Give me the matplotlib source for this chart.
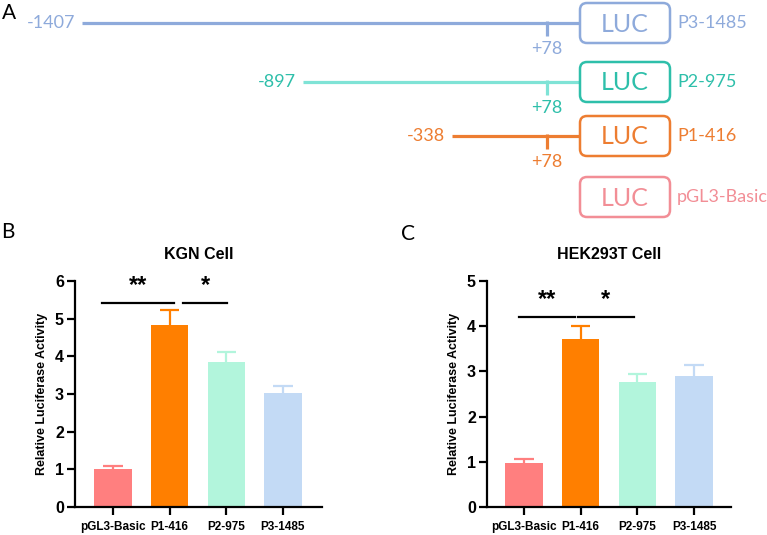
import matplotlib.pyplot as plt
from matplotlib.patches import FancyBboxPatch

# ---- panel A: promoter constructs ----
constructs = ["P3-1485", "P2-975", "P1-416", "pGL3-Basic"]
start_labels = ["-1407", "-897", "-338", None]
tss_label = "+78"
line_colors = ["#8eaadb", "#7fe3d6", "#ed7d31", "#f28e96"]
text_colors = ["#8eaadb", "#2ebfaa", "#ed7d31", "#f28e96"]

# ---- panels B/C: luciferase activity ----
groups = ["pGL3-Basic", "P1-416", "P2-975", "P3-1485"]
kgn_mean = [1.00, 4.84, 3.86, 3.02]
kgn_err = [0.09, 0.38, 0.26, 0.19]
hek_mean = [0.98, 3.71, 2.77, 2.89]
hek_err = [0.09, 0.30, 0.18, 0.26]
bar_colors = ["#ff7f7f", "#ff7f00", "#b2f5dc", "#c3daf5"]

W, H = 767, 535
fig = plt.figure(figsize=(W / 100, H / 100), dpi=100)

# schematic drawn in pixel space
axA = fig.add_axes([0, 0, 1, 1])
axA.set_xlim(0, W)
axA.set_ylim(H, 0)
axA.axis("off")

row_y = [23, 82, 136, 197]
line_start = [82, 303, 452, None]
tss_x = 547
box_x, box_w, box_h = 580, 90, 40
fA = "Lato"

for i, name in enumerate(constructs):
    y = row_y[i]
    if line_start[i] is not None:
        axA.plot([line_start[i], box_x], [y, y], color=line_colors[i], lw=2.3,
                 solid_capstyle="butt", zorder=1)
        axA.plot([tss_x, tss_x], [y - 2, y + 13], color=line_colors[i], lw=2.3,
                 solid_capstyle="butt", zorder=1)
        axA.text(line_start[i] - 7, y, start_labels[i], color=text_colors[i],
                 fontsize=13, family=fA, ha="right", va="center")
        axA.text(tss_x, y + 26, tss_label, color=text_colors[i], fontsize=13,
                 family=fA, ha="center", va="center")
    box = FancyBboxPatch((box_x, y - box_h / 2), box_w, box_h,
                         boxstyle="round,pad=0,rounding_size=7",
                         fc="white", ec=text_colors[i], lw=1.8, zorder=2)
    axA.add_patch(box)
    axA.text(box_x + box_w / 2, y + 1, "LUC", color=text_colors[i], fontsize=18,
             family=fA, ha="center", va="center", zorder=3)
    axA.text(box_x + box_w + 7, y, name, color=text_colors[i], fontsize=13,
             family=fA, ha="left", va="center")

axA.text(9, 13, "A", fontsize=15, family=fA, ha="center", va="center")
axA.text(8, 232, "B", fontsize=15, family=fA, ha="center", va="center")
axA.text(408, 234, "C", fontsize=15, family=fA, ha="center", va="center")


def bar_panel(rect, means, errs, ymax, title, sig):
    ax = fig.add_axes(rect)
    x = list(range(len(groups)))
    ax.bar(x, means, width=0.66, color=bar_colors, zorder=2)
    for xi, m, e, c in zip(x, means, errs, bar_colors):
        ax.vlines(xi, m, m + e, color=c, lw=1.6, zorder=1)
        ax.hlines(m + e, xi - 0.17, xi + 0.17, color=c, lw=1.6, zorder=1)
    star_off = ymax * 0.025
    for (x0, x1, yl, stars) in sig:
        ax.plot([x0, x1], [yl, yl], color="black", lw=1.6, clip_on=False)
        ax.text((x0 + x1) / 2, yl + star_off, stars, fontsize=17, fontweight="bold",
                ha="center", va="bottom", family="Liberation Sans")
    ax.set_ylim(0, ymax)
    ax.set_yticks(range(ymax + 1))
    ax.set_xticks(x)
    ax.set_xticklabels(groups)
    for s in ["top", "right"]:
        ax.spines[s].set_visible(False)
    for s in ["left", "bottom"]:
        ax.spines[s].set_linewidth(1.6)
    ax.tick_params(axis="both", width=1.6, length=6)
    ax.tick_params(axis="x", labelsize=8.5, pad=4)
    ax.tick_params(axis="y", labelsize=11.5, pad=2)
    for lab in ax.get_xticklabels() + ax.get_yticklabels():
        lab.set_fontweight("bold")
        lab.set_family("Liberation Sans")
    ax.set_ylabel("Relative Luciferase Activity", fontsize=9, fontweight="bold",
                  family="Liberation Sans", labelpad=5)
    ax.set_title(title, fontsize=11.5, fontweight="bold", family="Liberation Sans",
                 pad=16)
    return ax


axB = bar_panel([75 / W, 1 - 507 / H, (322 - 75) / W, 226 / H], kgn_mean, kgn_err, 6,
                "KGN Cell", [(-0.2, 1.08, 5.42, "**"), (1.24, 2.01, 5.42, "*")])
axB.set_xlim(-0.67, 3.69)
axC = bar_panel([487 / W, 1 - 507 / H, (731 - 487) / W, 226 / H], hek_mean, hek_err, 5,
                "HEK293T Cell", [(-0.09, 0.9, 4.2, "**"), (0.95, 1.94, 4.2, "*")])
axC.set_xlim(-0.65, 3.65)

fig.savefig("out.png", dpi=100)
